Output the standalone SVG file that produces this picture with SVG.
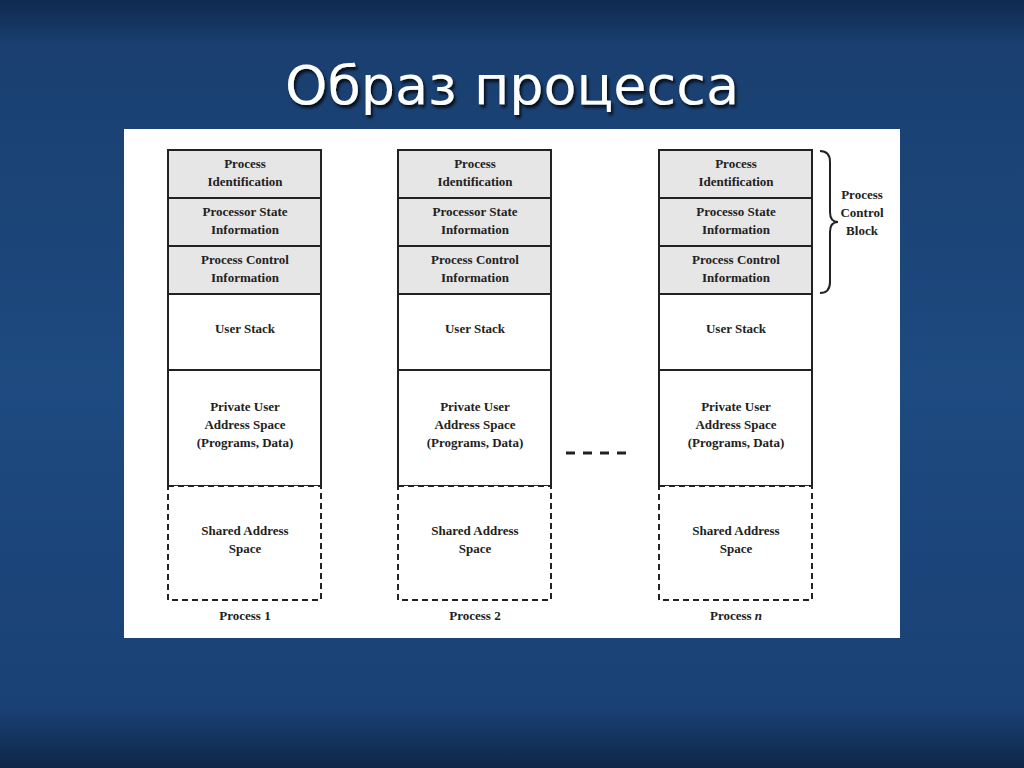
<svg xmlns="http://www.w3.org/2000/svg" width="1024" height="768" viewBox="0 0 1024 768">
<defs>
<linearGradient id="bg" x1="0" y1="0" x2="0" y2="1">
<stop offset="0" stop-color="#0f2a4f"/><stop offset="0.06" stop-color="#1a3f70"/><stop offset="0.5" stop-color="#1d4a80"/><stop offset="0.92" stop-color="#1a4176"/><stop offset="1" stop-color="#0e2647"/>
</linearGradient>
<filter id="sh"><feDropShadow dx="2" dy="3" stdDeviation="1.5" flood-color="#000" flood-opacity="0.8"/></filter>
<style>
.b{stroke:#222;stroke-width:2;fill:#fff}
.g{fill:#e6e6e6}
.d{fill:#fff;stroke:#222;stroke-width:2;stroke-dasharray:6,4}
text{font-family:"Liberation Serif",serif;font-weight:bold;font-size:13px;fill:#222;text-anchor:middle}
</style>
</defs>
<rect width="1024" height="768" fill="url(#bg)"/>
<text x="512" y="104" style="font-family:'DejaVu Sans',sans-serif;font-weight:normal;font-size:54px;fill:#fff" filter="url(#sh)">Образ процесса</text>
<rect x="124" y="129" width="776" height="509" fill="#fff"/>
<g id="p1">
<rect class="b g" x="168" y="150" width="153" height="48"/><rect class="b g" x="168" y="198" width="153" height="48"/><rect class="b g" x="168" y="246" width="153" height="48"/>
<rect class="b" x="168" y="294" width="153" height="76"/><rect class="b" x="168" y="370" width="153" height="116"/>
<rect class="d" x="168" y="486" width="153" height="114"/>
<text x="245" y="168">Process</text><text x="245" y="186">Identification</text>
<text x="245" y="216">Processor State</text><text x="245" y="234">Information</text>
<text x="245" y="264">Process Control</text><text x="245" y="282">Information</text>
<text x="245" y="333">User Stack</text>
<text x="245" y="411">Private User</text><text x="245" y="429">Address Space</text><text x="245" y="447">(Programs, Data)</text>
<text x="245" y="535">Shared Address</text><text x="245" y="553">Space</text>
<text x="245" y="620">Process 1</text>
</g>
<g id="p2">
<rect class="b g" x="398" y="150" width="153" height="48"/><rect class="b g" x="398" y="198" width="153" height="48"/><rect class="b g" x="398" y="246" width="153" height="48"/>
<rect class="b" x="398" y="294" width="153" height="76"/><rect class="b" x="398" y="370" width="153" height="116"/>
<rect class="d" x="398" y="486" width="153" height="114"/>
<text x="475" y="168">Process</text><text x="475" y="186">Identification</text>
<text x="475" y="216">Processor State</text><text x="475" y="234">Information</text>
<text x="475" y="264">Process Control</text><text x="475" y="282">Information</text>
<text x="475" y="333">User Stack</text>
<text x="475" y="411">Private User</text><text x="475" y="429">Address Space</text><text x="475" y="447">(Programs, Data)</text>
<text x="475" y="535">Shared Address</text><text x="475" y="553">Space</text>
<text x="475" y="620">Process 2</text>
</g>
<g id="pn">
<rect class="b g" x="659" y="150" width="153" height="48"/><rect class="b g" x="659" y="198" width="153" height="48"/><rect class="b g" x="659" y="246" width="153" height="48"/>
<rect class="b" x="659" y="294" width="153" height="76"/><rect class="b" x="659" y="370" width="153" height="116"/>
<rect class="d" x="659" y="486" width="153" height="114"/>
<text x="736" y="168">Process</text><text x="736" y="186">Identification</text>
<text x="736" y="216">Processo State</text><text x="736" y="234">Information</text>
<text x="736" y="264">Process Control</text><text x="736" y="282">Information</text>
<text x="736" y="333">User Stack</text>
<text x="736" y="411">Private User</text><text x="736" y="429">Address Space</text><text x="736" y="447">(Programs, Data)</text>
<text x="736" y="535">Shared Address</text><text x="736" y="553">Space</text>
<text x="736" y="620">Process <tspan font-style="italic">n</tspan></text>
</g>
<g id="connectors">
<line x1="566" y1="453" x2="628" y2="453" stroke="#222" stroke-width="3" stroke-dasharray="9,8"/>
<path d="M820,151 Q830,151 830,162 L830,212 Q830,222 838,222 Q830,222 830,232 L830,282 Q830,293 820,293" fill="none" stroke="#222" stroke-width="2"/>
</g>
<g id="pcb"><text x="862" y="199">Process</text><text x="862" y="217">Control</text><text x="862" y="235">Block</text></g>
</svg>
